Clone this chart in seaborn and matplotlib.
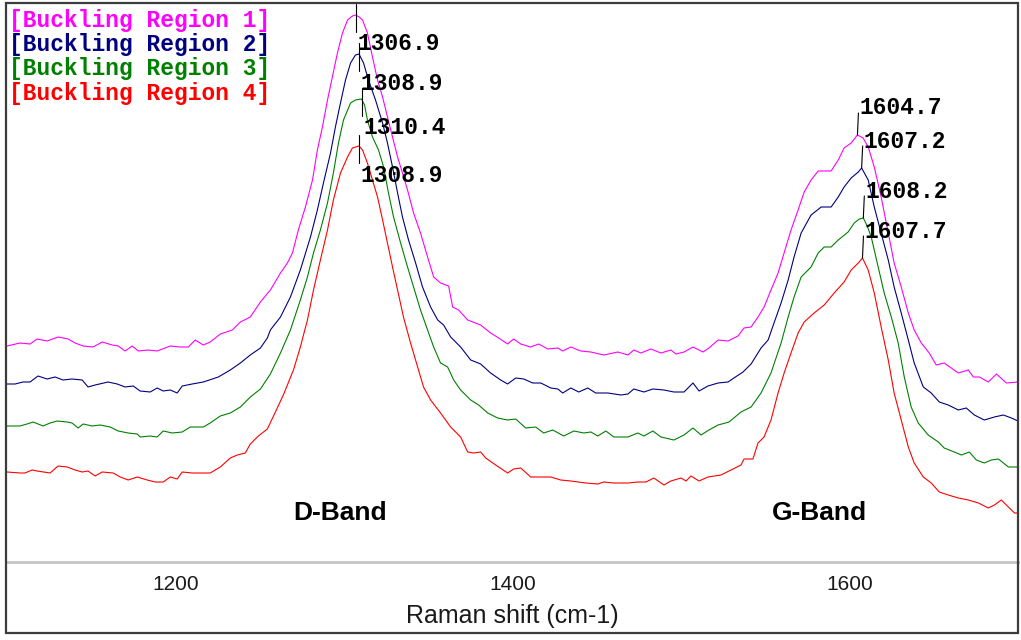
import numpy as np
import pandas as pd
import matplotlib
matplotlib.use("Agg")
import matplotlib.pyplot as plt
from matplotlib.patches import Rectangle
import seaborn as sns

# ---- data -----------------------------------------------------------------
regions = ["Buckling Region 1", "Buckling Region 2", "Buckling Region 3", "Buckling Region 4"]
colors = ["#FF00FF", "#000080", "#008000", "#FF0000"]

shift_r1 = [1100.0, 1107.7, 1113.7, 1117.8, 1123.8, 1130.3, 1136.3, 1140.4, 1145.2, 1151.1, 1156.5, 1162.4,
            1166.0, 1170.1, 1174.3, 1177.9, 1183.8, 1189.1, 1196.9, 1202.8, 1207.6, 1211.7, 1216.5, 1220.6,
            1226.6, 1233.7, 1238.5, 1244.4, 1250.4, 1256.3, 1262.3, 1266.4, 1269.4, 1272.9, 1277.1, 1281.3,
            1284.2, 1287.2, 1290.2, 1293.1, 1296.1, 1299.1, 1302.1, 1305.0, 1306.9, 1309.0, 1311.0, 1313.9,
            1316.9, 1319.9, 1322.9, 1325.8, 1328.8, 1331.8, 1334.7, 1337.7, 1341.3, 1345.4, 1349.6, 1353.2,
            1357.3, 1362.1, 1364.5, 1368.0, 1373.4, 1381.1, 1387.0, 1391.8, 1397.1, 1400.7, 1404.9, 1410.8,
            1415.6, 1420.9, 1426.9, 1429.8, 1434.6, 1440.5, 1446.5, 1454.2, 1462.5, 1468.5, 1472.0, 1476.2,
            1482.1, 1488.1, 1494.0, 1497.0, 1501.8, 1507.1, 1513.0, 1516.6, 1522.0, 1527.9, 1533.8, 1537.4,
            1541.6, 1545.7, 1549.3, 1553.4, 1557.6, 1561.2, 1565.3, 1569.5, 1573.1, 1577.2, 1581.4, 1589.1,
            1593.3, 1596.8, 1601.0, 1604.7, 1608.1, 1611.1, 1614.7, 1618.8, 1623.0, 1626.5, 1630.7, 1634.9,
            1638.4, 1642.6, 1647.3, 1651.5, 1656.2, 1660.4, 1664.6, 1670.5, 1673.5, 1677.1, 1682.4, 1687.2,
            1693.1, 1700.0]
int_r1 = [216, 219, 218, 223, 221, 225, 223, 219, 216, 215, 220, 217,
          216, 211, 216, 211, 212, 211, 216, 215, 215, 222, 217, 220,
          228, 232, 240, 245, 260, 272, 289, 299, 309, 332, 355, 382,
          412, 435, 462, 485, 509, 529, 542, 546, 547, 545, 542, 529,
          505, 482, 465, 445, 425, 405, 389, 372, 349, 329, 305, 285,
          279, 276, 255, 252, 242, 237, 229, 224, 218, 223, 218, 215,
          218, 213, 214, 211, 215, 211, 210, 207, 210, 207, 212, 209,
          213, 209, 212, 208, 210, 215, 210, 214, 222, 221, 226, 234,
          235, 245, 255, 272, 289, 309, 332, 352, 370, 382, 391, 391,
          402, 414, 419, 427, 424, 415, 395, 365, 329, 299, 275, 249,
          232, 219, 209, 197, 199, 194, 189, 192, 185, 185, 180, 188,
          179, 180]

shift_r2 = [1100.0, 1104.8, 1109.5, 1113.7, 1118.4, 1123.8, 1128.5, 1133.3, 1138.6, 1144.6, 1148.1, 1152.3,
            1160.0, 1165.4, 1170.1, 1174.9, 1179.0, 1185.0, 1189.1, 1192.7, 1196.9, 1201.0, 1204.0, 1209.9,
            1216.5, 1225.4, 1232.5, 1238.5, 1244.4, 1250.4, 1254.5, 1256.3, 1262.3, 1268.2, 1274.1, 1280.1,
            1284.2, 1287.8, 1292.0, 1294.9, 1297.9, 1300.9, 1303.9, 1306.8, 1308.9, 1311.6, 1314.5, 1318.7,
            1322.9, 1325.8, 1328.8, 1331.8, 1334.7, 1338.3, 1342.5, 1346.6, 1351.4, 1355.6, 1359.1, 1363.3,
            1369.2, 1375.2, 1381.1, 1387.0, 1393.0, 1397.1, 1401.9, 1406.7, 1412.0, 1416.8, 1422.7, 1426.9,
            1429.8, 1434.6, 1439.3, 1444.7, 1449.4, 1456.6, 1464.3, 1468.5, 1472.0, 1478.0, 1483.3, 1489.9,
            1495.8, 1501.8, 1507.1, 1510.7, 1516.0, 1522.0, 1527.9, 1531.4, 1536.8, 1541.6, 1547.5, 1551.7,
            1555.2, 1559.4, 1563.6, 1567.1, 1571.3, 1577.2, 1583.2, 1589.1, 1593.3, 1596.8, 1601.0, 1605.2,
            1607.2, 1611.1, 1614.7, 1618.8, 1623.0, 1626.5, 1630.7, 1634.9, 1638.4, 1643.8, 1648.5, 1653.3,
            1658.6, 1664.6, 1669.3, 1674.1, 1680.0, 1686.0, 1691.3, 1696.1, 1700.0]
int_r2 = [178, 178, 180, 180, 186, 183, 185, 182, 183, 182, 175, 177,
          180, 178, 175, 176, 171, 170, 174, 171, 172, 169, 176, 178,
          180, 185, 192, 199, 207, 214, 224, 232, 245, 265, 292, 325,
          352, 379, 409, 435, 459, 482, 499, 507, 508, 499, 482, 462,
          439, 419, 395, 369, 345, 322, 299, 275, 255, 242, 237, 225,
          215, 202, 198, 189, 182, 178, 184, 183, 179, 179, 174, 173,
          169, 174, 170, 174, 169, 169, 167, 168, 173, 170, 173, 172,
          170, 170, 179, 171, 176, 179, 180, 184, 190, 198, 214, 222,
          239, 259, 282, 305, 329, 347, 355, 355, 365, 375, 384, 390,
          394, 382, 355, 329, 302, 275, 249, 222, 199, 175, 169, 160,
          157, 152, 154, 147, 142, 145, 147, 144, 141]

shift_r3 = [1100.0, 1107.7, 1111.9, 1115.5, 1121.4, 1125.6, 1129.7, 1135.7, 1138.6, 1142.2, 1145.2, 1150.5,
            1155.3, 1161.2, 1166.0, 1171.9, 1177.3, 1179.0, 1185.0, 1189.1, 1192.7, 1198.1, 1204.0, 1208.8,
            1216.5, 1220.6, 1226.6, 1232.5, 1238.5, 1244.4, 1250.4, 1256.3, 1262.3, 1268.2, 1274.1, 1278.3,
            1281.9, 1286.0, 1290.2, 1293.7, 1296.7, 1299.7, 1303.9, 1306.8, 1310.4, 1312.2, 1313.9, 1316.9,
            1320.5, 1323.5, 1326.4, 1329.4, 1333.6, 1337.7, 1341.3, 1345.4, 1349.6, 1353.2, 1357.3, 1361.5,
            1365.1, 1369.2, 1375.2, 1379.9, 1385.3, 1391.2, 1397.1, 1401.9, 1407.8, 1413.8, 1418.5, 1423.9,
            1430.4, 1436.4, 1442.3, 1446.5, 1450.6, 1455.4, 1460.1, 1468.5, 1474.4, 1478.0, 1483.3, 1488.1,
            1495.8, 1501.8, 1507.1, 1511.9, 1516.6, 1522.0, 1528.5, 1535.6, 1541.6, 1547.5, 1553.4, 1559.4,
            1563.6, 1567.1, 1571.3, 1577.2, 1581.4, 1585.0, 1589.1, 1593.3, 1599.2, 1602.8, 1605.8, 1608.2,
            1610.5, 1612.9, 1617.0, 1620.6, 1624.8, 1628.9, 1632.5, 1636.6, 1640.8, 1646.7, 1652.7, 1656.2,
            1662.2, 1666.4, 1671.1, 1675.3, 1680.0, 1684.2, 1688.4, 1694.3, 1700.0]
int_r3 = [136, 136, 138, 140, 136, 139, 141, 140, 139, 134, 138, 136,
          137, 135, 131, 129, 128, 125, 126, 125, 131, 129, 130, 135,
          135, 139, 146, 149, 155, 165, 173, 188, 209, 232, 262, 285,
          309, 332, 359, 389, 419, 442, 459, 462, 463, 457, 442, 425,
          412, 395, 369, 345, 319, 295, 275, 252, 232, 215, 199, 195,
          182, 172, 162, 157, 149, 144, 142, 143, 134, 135, 129, 132,
          126, 131, 129, 130, 126, 131, 125, 125, 129, 126, 131, 125,
          122, 127, 134, 127, 132, 137, 140, 150, 155, 169, 189, 219,
          245, 265, 285, 295, 309, 315, 315, 322, 330, 339, 343, 344,
          336, 325, 295, 269, 245, 219, 185, 155, 139, 127, 120, 114,
          110, 107, 110, 102, 99, 102, 103, 95, 95]

shift_r4 = [1100.0, 1107.7, 1110.7, 1114.9, 1117.8, 1125.6, 1130.3, 1135.7, 1140.4, 1144.6, 1148.1, 1152.3,
            1156.5, 1163.0, 1167.2, 1171.9, 1177.3, 1183.2, 1188.0, 1192.7, 1196.9, 1201.0, 1204.0, 1209.9,
            1214.7, 1220.6, 1226.6, 1232.5, 1236.7, 1241.4, 1244.4, 1249.2, 1254.5, 1259.3, 1264.0, 1270.0,
            1274.1, 1278.3, 1281.9, 1286.0, 1290.2, 1293.7, 1297.9, 1302.1, 1305.0, 1308.9, 1311.0, 1313.9,
            1316.9, 1319.9, 1322.9, 1325.8, 1328.8, 1331.8, 1335.3, 1339.5, 1343.7, 1347.2, 1351.4, 1357.3,
            1363.3, 1369.2, 1373.4, 1376.9, 1381.1, 1384.1, 1390.0, 1397.1, 1400.7, 1404.9, 1410.8, 1415.6,
            1422.7, 1428.6, 1434.6, 1443.5, 1450.6, 1454.2, 1460.1, 1468.5, 1474.4, 1479.2, 1483.9, 1489.9,
            1494.0, 1500.0, 1503.0, 1505.9, 1510.7, 1516.0, 1523.7, 1529.7, 1535.6, 1537.4, 1542.7, 1545.7,
            1549.3, 1553.4, 1557.6, 1561.2, 1565.3, 1569.5, 1573.1, 1579.0, 1585.0, 1590.9, 1596.8, 1601.0,
            1605.2, 1607.7, 1611.1, 1614.7, 1618.8, 1623.0, 1626.5, 1630.7, 1634.9, 1638.4, 1643.8, 1648.5,
            1653.3, 1658.6, 1664.6, 1670.5, 1676.5, 1682.4, 1686.0, 1690.1, 1694.3, 1697.9, 1700.0]
int_r4 = [90, 89, 89, 92, 91, 89, 96, 95, 92, 90, 91, 86,
          90, 89, 85, 82, 85, 82, 80, 80, 85, 83, 90, 89,
          89, 89, 95, 104, 107, 109, 118, 126, 133, 150, 167, 192,
          215, 242, 272, 302, 332, 362, 389, 405, 414, 416, 412, 399,
          382, 365, 342, 319, 295, 272, 245, 219, 195, 175, 162, 149,
          135, 125, 110, 109, 110, 104, 97, 89, 93, 94, 85, 85,
          85, 82, 81, 79, 78, 80, 79, 79, 80, 80, 84, 77,
          81, 84, 81, 86, 81, 85, 87, 92, 97, 103, 103, 119,
          125, 142, 169, 189, 209, 229, 240, 249, 257, 269, 280, 292,
          299, 304, 292, 269, 235, 202, 169, 142, 115, 99, 85, 79,
          70, 67, 64, 62, 59, 54, 57, 62, 55, 49, 49]

d_band_peaks = [1306.9, 1308.9, 1310.4, 1308.9]
g_band_peaks = [1604.7, 1607.2, 1608.2, 1607.7]

shifts = [shift_r1, shift_r2, shift_r3, shift_r4]
intensities = [int_r1, int_r2, int_r3, int_r4]

df = pd.concat(
    [pd.DataFrame({"shift": s, "intensity": i, "region": r})
     for s, i, r in zip(shifts, intensities, regions)],
    ignore_index=True,
)

# ---- figure ---------------------------------------------------------------
sns.set_style("white")
plt.rcParams["font.family"] = ["Liberation Sans", "DejaVu Sans"]

W, H = 1021, 640
fig = plt.figure(figsize=(W / 100, H / 100), dpi=100)
ax_l, ax_r, ax_t, ax_b = 7, 1018, 4, 562
ax = fig.add_axes([ax_l / W, 1 - ax_b / H, (ax_r - ax_l) / W, (ax_b - ax_t) / H])

sns.lineplot(data=df, x="shift", y="intensity", hue="region", hue_order=regions,
             palette=dict(zip(regions, colors)), estimator=None, sort=False,
             legend=False, linewidth=0.8, ax=ax)

ax.set_xlim(1100, 1700)
ax.set_ylim(0, 558)
ax.set_yticks([])
ax.set_ylabel("")
ax.set_xticks([1200, 1400, 1600])
ax.set_xticks([1150, 1250, 1300, 1350, 1450, 1500, 1550, 1650], minor=True)
ax.tick_params(axis="x", which="major", direction="inout", length=5, width=1.0,
               color="#404040", pad=7, labelsize=15, labelcolor="#1a1a1a")
ax.tick_params(axis="x", which="minor", direction="inout", length=2.5, width=1.0,
               color="#404040")
for side in ("left", "right", "top"):
    ax.spines[side].set_visible(False)
ax.spines["bottom"].set_color("#c4c4c4")
ax.spines["bottom"].set_linewidth(2.0)
ax.set_xlabel("Raman shift (cm-1)", fontsize=18, color="#1a1a1a", labelpad=7)

# peak position markers and labels
mono = dict(family=["Liberation Mono", "DejaVu Sans Mono"], weight="bold", size=16.5)
for s, i, dp, gp in zip(shifts, intensities, d_band_peaks, g_band_peaks):
    d_top = np.interp(dp, s, i)
    ax.plot([dp, dp], [d_top - 17, d_top + 11], color="black", lw=0.8)
    ax.annotate(f"{dp:.1f}", xy=(dp, d_top), xytext=(2, -29), textcoords="offset pixels",
                ha="left", va="center", color="black", **mono)
    g_top = np.interp(gp, s, i)
    ax.plot([gp, gp + 0.6], [g_top, g_top + 22], color="black", lw=0.8)
    ax.annotate(f"{gp:.1f}", xy=(gp, g_top), xytext=(2, 27), textcoords="offset pixels",
                ha="left", va="center", color="black", **mono)

# band names
ax.text(1297.9, 49, "D-Band", ha="center", va="center", fontsize=19, weight="bold", color="black")
ax.text(1582.0, 49, "G-Band", ha="center", va="center", fontsize=19, weight="bold", color="black")

# series key in the upper left corner
for k, (r, c) in enumerate(zip(regions, colors)):
    ax.annotate(f"[{r}]", xy=(0, 1), xycoords="axes fraction",
                xytext=(2, -16 - 24.5 * k), textcoords="offset pixels",
                ha="left", va="center", color=c, **mono)

# outer frame round the whole figure
fig.patches.append(Rectangle((6 / W, (H - 633) / H), 1012 / W, 630 / H,
                             transform=fig.transFigure, fill=False,
                             edgecolor="#3c3c3c", linewidth=1.6))

fig.savefig("out.png", dpi=100, facecolor="white")
